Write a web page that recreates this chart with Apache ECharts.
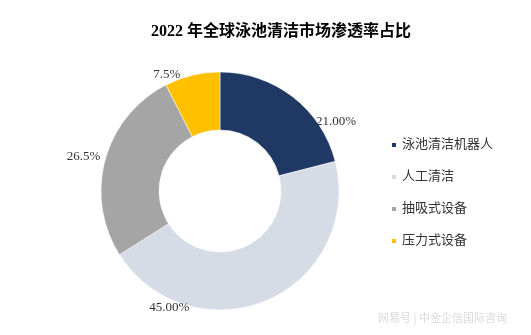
<!DOCTYPE html>
<html><head><meta charset="utf-8">
<script src="https://cdn.jsdelivr.net/npm/echarts@6/dist/echarts.min.js"></script>
<style>html,body{margin:0;padding:0;background:#fff}#c{width:531px;height:335px}</style>
</head><body><div id="c"></div>
<script>
const titleText = '2022 年全球泳池清洁市场渗透率占比';
const categories = ['泳池清洁机器人', '人工清洁', '抽吸式设备', '压力式设备'];
const values = [21.0, 45.0, 26.5, 7.5];
const labelTexts = ['21.00%', '45.00%', '26.5%', '7.5%'];
const colors = ['#1F3864', '#D6DCE5', '#A5A5A5', '#FFC000'];
const labelOffsets = [[18, 25], [-123, 7], [0, -3], [-7, -1]];
const watermark = '网易号 | 中金企信国际咨询';

const chart = echarts.init(document.getElementById('c'), null, {renderer: 'canvas'});
const serif = '"Liberation Serif", "Times New Roman", "Noto Sans CJK SC", serif';
chart.setOption({
  animation: false,
  backgroundColor: '#fff',
  title: {
    text: titleText, left: 146, top: 19,
    textStyle: {fontFamily: serif, fontWeight: 'bold', fontSize: 16, color: '#000'}
  },
  legend: {
    orient: 'vertical', left: 385, top: 132,
    icon: 'rect', itemWidth: 6, itemHeight: 6, itemGap: 16,
    textStyle: {fontFamily: serif, fontSize: 13, color: '#333', lineHeight: 16},
    data: categories
  },
  graphic: [{
    type: 'text', left: 378, top: 312,
    style: {text: watermark, fill: '#dadada', font: '11px "Noto Sans CJK SC"'}
  }],
  series: [{
    type: 'pie',
    center: [220, 191],
    radius: [61, 119],
    startAngle: 90,
    clockwise: true,
    avoidLabelOverlap: false,
    itemStyle: {borderColor: '#fff', borderWidth: 0.5},
    label: {
      show: true, position: 'outside',
      fontFamily: serif, fontSize: 13, color: '#333',
      formatter: p => labelTexts[p.dataIndex]
    },
    labelLine: {show: false, length: 0, length2: 0},
    data: categories.map((c, i) => ({
      name: c, value: values[i],
      itemStyle: {color: colors[i]},
      label: {offset: labelOffsets[i]}
    }))
  }]
});
</script></body></html>
